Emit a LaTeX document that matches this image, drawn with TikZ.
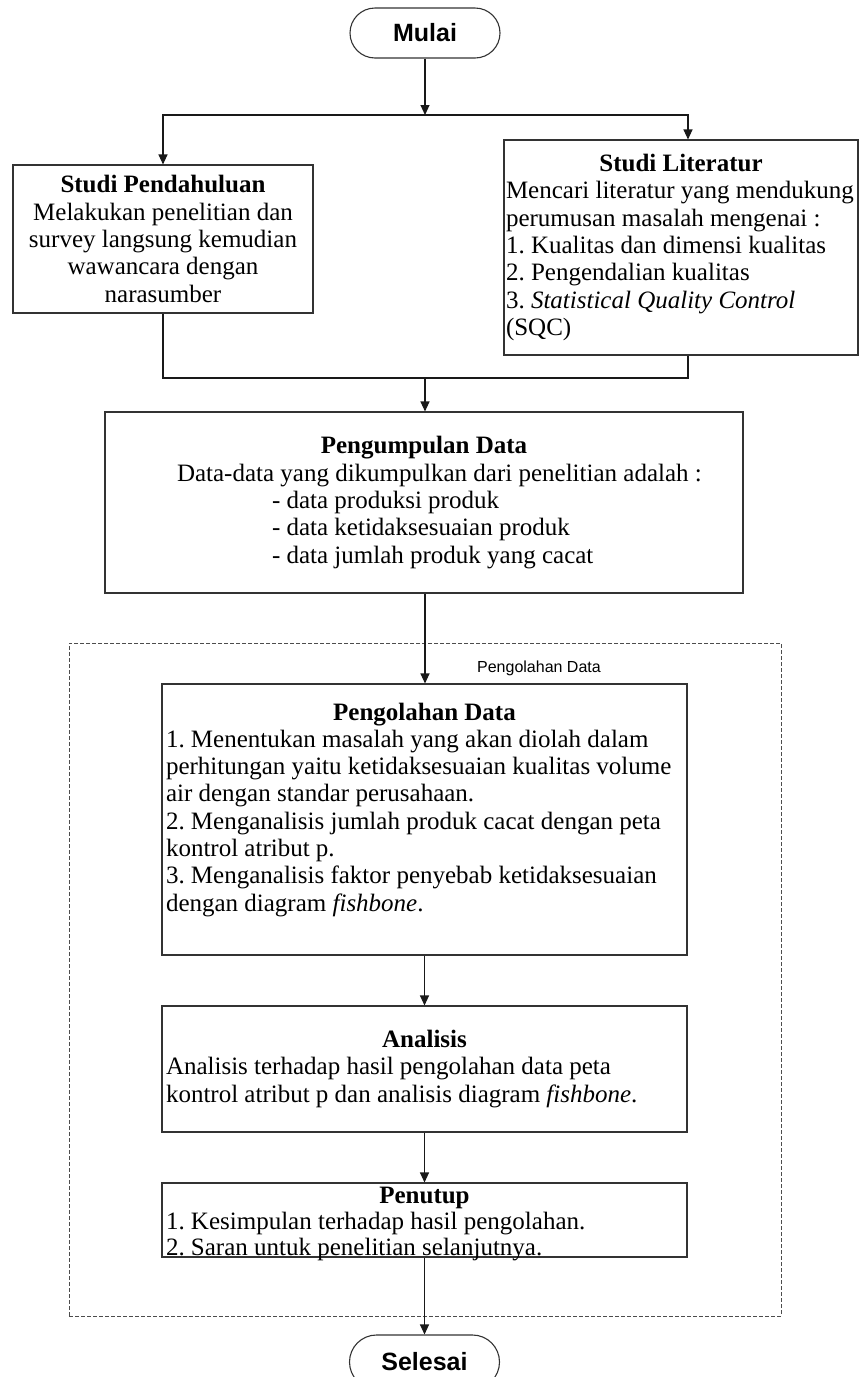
\documentclass[tikz,border=0pt]{standalone}
\usepackage{fontspec}
\setmainfont{Liberation Serif}
\newfontfamily\arialf{Liberation Sans}
\usetikzlibrary{arrows.meta}
\frenchspacing
\begin{document}
\begin{tikzpicture}[x=1pt,y=-1pt,
  box/.style={draw=black!80, line width=1.1pt, rectangle, inner ysep=0pt, font=\fontsize{25}{27.3}\selectfont},
  term/.style={draw=black!80, line width=1.1pt, rectangle, font=\arialf\bfseries\fontsize{25}{28}\selectfont, minimum width=150pt, inner sep=0pt},
  conn/.style={draw=black!90, line width=1.1pt},
  arr/.style={conn, -{Triangle[length=10pt,width=9pt]}},
  grpbox/.style={draw=black!70, line width=0.9pt, dash pattern=on 4pt off 2pt, rectangle, inner sep=0pt},
  lblstyle/.style={font=\arialf\fontsize{16}{19}\selectfont, inner sep=0pt},
  txt/.style={inner sep=0pt, font=\fontsize{25}{27.3}\selectfont}
]
\useasboundingbox (0,0) rectangle (859,1377);

\node[term, minimum height=50pt, rounded corners=25pt] (mulai) at (425,33) {Mulai};

\node[box, minimum width=300pt, minimum height=148pt, align=center] (sp) at (163,239)
  {\textbf{Studi Pendahuluan}\\Melakukan penelitian dan\\survey langsung kemudian\\wawancara dengan\\narasumber};

\node[box, minimum width=354pt, minimum height=215pt, inner xsep=1pt, align=left] (sl) at (681,247.5)
  {\makebox[350pt][c]{\textbf{Studi Literatur}}\\
   Mencari literatur yang mendukung\\
   perumusan masalah mengenai :\\
   1. Kualitas dan dimensi kualitas\\
   2. Pengendalian kualitas\\
   3. \textit{Statistical Quality Control}\\
   (SQC)};

\node[box, minimum width=638pt, minimum height=181pt, inner xsep=3pt, align=left] (pd) at (424,502.5)
  {\makebox[632pt][c]{\textbf{Pengumpulan Data}}\\
   \hspace*{69pt}Data-data yang dikumpulkan dari penelitian adalah :\\
   \hspace*{164pt}- data produksi produk\\
   \hspace*{164pt}- data ketidaksesuaian produk\\
   \hspace*{164pt}- data jumlah produk yang cacat};

\node[grpbox, minimum width=712pt, minimum height=673pt] (grp) at (425,979.5) {};
\node[lblstyle] (lbl) at (539,668) {Pengolahan Data};

\node[box, minimum width=525pt, minimum height=271pt] (pgd) at (424.5,819.5) {};
\node[txt, align=left, anchor=north] (pgdt) at ([yshift=-19pt]pgd.north)
  {\makebox[517pt][c]{\textbf{Pengolahan Data}}\\
   1. Menentukan masalah yang akan diolah dalam\\
   perhitungan yaitu ketidaksesuaian kualitas volume\\
   air dengan standar perusahaan.\\
   2. Menganalisis jumlah produk cacat dengan peta\\
   kontrol atribut p.\\
   3. Menganalisis faktor penyebab ketidaksesuaian\\
   dengan diagram \textit{fishbone}.};

\node[box, minimum width=525pt, minimum height=126pt, inner xsep=4pt, align=left] (an) at (424.5,1069)
  {\makebox[517pt][c]{\textbf{Analisis}}\\
   Analisis terhadap hasil pengolahan data peta\\
   kontrol atribut p dan analisis diagram \textit{fishbone}.};

\node[box, minimum width=525pt, minimum height=74pt] (pen) at (424.5,1220) {};
\node[txt, align=left, anchor=north, font=\fontsize{25}{26.3}\selectfont] (pent) at ([yshift=-4pt]pen.north)
  {\makebox[517pt][c]{\textbf{Penutup}}\\
   1. Kesimpulan terhadap hasil pengolahan.\\
   2. Saran untuk penelitian selanjutnya.};

\node[term, minimum height=54pt, rounded corners=27pt] (selesai) at (424.5,1362) {Selesai};

\coordinate (split) at (425,115);
\coordinate (merge) at (425,378);

\draw[arr] (mulai) -- (split);
\draw[arr] (split) -| (sp.north);
\draw[arr] (split) -| ([xshift=7pt]sl.north);
\draw[conn] (sp.south) |- (merge) -| ([xshift=7pt]sl.south);
\draw[arr] (merge) -- (merge |- pd.north);
\draw[arr] (merge |- pd.south) -- (merge |- pgd.north);
\draw[arr] (pgd.south) -- (an.north);
\draw[arr] (an.south) -- (pen.north);
\draw[arr] (pen.south) -- (selesai.north);
\end{tikzpicture}
\end{document}
